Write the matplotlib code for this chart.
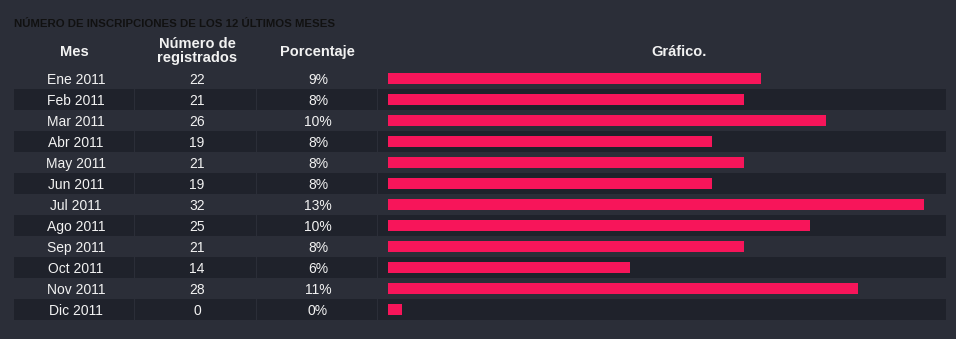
import numpy as np
import matplotlib
matplotlib.use('Agg')
import matplotlib.pyplot as plt
from matplotlib.patches import Rectangle

meses = ['Ene 2011', 'Feb 2011', 'Mar 2011', 'Abr 2011', 'May 2011', 'Jun 2011',
         'Jul 2011', 'Ago 2011', 'Sep 2011', 'Oct 2011', 'Nov 2011', 'Dic 2011']
registrados = [22, 21, 26, 19, 21, 19, 32, 25, 21, 14, 28, 0]
porcentajes = ['9%', '8%', '10%', '8%', '8%', '8%', '13%', '10%', '8%', '6%', '11%', '0%']

BG = '#2b2e38'
DARK = '#1f222b'
BAR = '#f7155a'
TXT = '#f2f2f2'

W, H = 956, 339
fig = plt.figure(figsize=(W / 100, H / 100), dpi=100, facecolor=BG)

# table area in pixels: x 14..946, rows from y=68 to 320
left_px, right_px, top_px, bot_px = 14, 946, 68, 320
rect = [left_px / W, (H - bot_px) / H, (right_px - left_px) / W, (bot_px - top_px) / H]
ax = fig.add_axes(rect)
ax.set_xlim(left_px, right_px)
ax.set_ylim(len(meses), 0)
ax.axis('off')

# cell columns (pixel edges), separators are 1px gaps
cols = [(14, 134), (135, 256), (257, 377), (378, 946)]
for i in range(len(meses)):
    if i % 2 == 1:
        for a, b in cols:
            ax.add_patch(Rectangle((a, i), b - a, 1, facecolor=DARK, edgecolor='none'))

font = ['Liberation Sans', 'DejaVu Sans']
for i, (m, r, p) in enumerate(zip(meses, registrados, porcentajes)):
    y = i + 0.55
    ax.text(76, y, m, ha='center', va='center', color=TXT, fontsize=10, family=font)
    ax.text(197, y, str(r), ha='center', va='center', color=TXT, fontsize=10, family=font)
    ax.text(318, y, p, ha='center', va='center', color=TXT, fontsize=10, family=font)

hy = -0.75
hkw = dict(ha='center', va='center', color=TXT, fontsize=10.5, fontweight='bold',
           family=font, clip_on=False)
ax.text(74, hy, 'Mes', **hkw)
ax.text(197, hy - 0.05, 'Número de\nregistrados', linespacing=0.95, **hkw)
ax.text(317, hy, 'Porcentaje', **hkw)
ax.text(679, hy, 'Gráfico.', **hkw)

fig.text(14 / W, 1 - 24 / H, 'NÚMERO DE INSCRIPCIONES DE LOS 12 ÚLTIMOS MESES',
         ha='left', va='center', color='#111111', fontsize=8.2, fontweight='bold',
         family=['Liberation Sans Narrow', 'Liberation Sans', 'DejaVu Sans'])

# bars
bar_left = 388
px_per_unit = 16.3
min_len = 14 / px_per_unit
bx = fig.add_axes([bar_left / W, rect[1], (right_px - bar_left) / W, rect[3]])
bx.set_xlim(0, (right_px - bar_left) / px_per_unit)
bx.set_ylim(len(meses), 0)
bx.axis('off')
bx.barh(np.arange(len(meses)) + 0.5, np.array(registrados) + min_len, height=0.57,
        left=0, color=BAR)

fig.savefig('out.png', dpi=100, facecolor=BG)
